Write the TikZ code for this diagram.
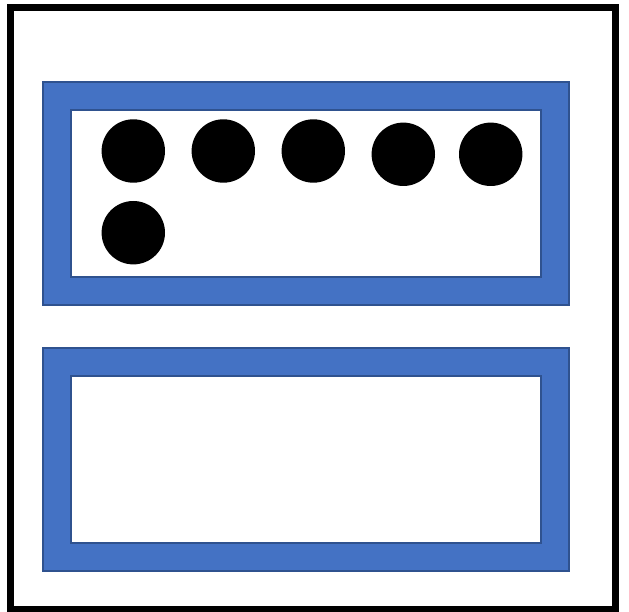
\documentclass[tikz,border=0pt]{standalone}
\definecolor{frameblue}{HTML}{4472C4}
\definecolor{frameedge}{HTML}{2F528F}
\tikzset{
  frame/.style={fill=frameblue, even odd rule},
  frameline/.style={draw=frameedge, line width=1.5pt},
  dot/.style={circle, fill=black, minimum size=63.4pt, inner sep=0pt}
}
\begin{document}
\begin{tikzpicture}[x=1pt,y=-1pt]
\useasboundingbox (0,0) rectangle (629,612);
\fill[white] (0,0) rectangle (629,612);
\draw[line width=7pt] (10.5,8) rectangle (615.5,609);
% frame 1
\fill[frame] (43,82) rectangle (569,305) (71,110) rectangle (541,277);
\draw[frameline] (43,82) rectangle (569,305);
\draw[frameline] (71,110) rectangle (541,277);
% frame 2
\fill[frame] (43,348) rectangle (569,571) (71,376) rectangle (541,543);
\draw[frameline] (43,348) rectangle (569,571);
\draw[frameline] (71,376) rectangle (541,543);
% dots
\node[dot] (d1) at (133.3,151) {};
\node[dot] (d2) at (223.3,151) {};
\node[dot] (d3) at (313.3,151) {};
\node[dot] (d4) at (403.3,154.3) {};
\node[dot] (d5) at (490.7,154.3) {};
\node[dot] (d6) at (133.3,232.7) {};
\end{tikzpicture}
\end{document}
